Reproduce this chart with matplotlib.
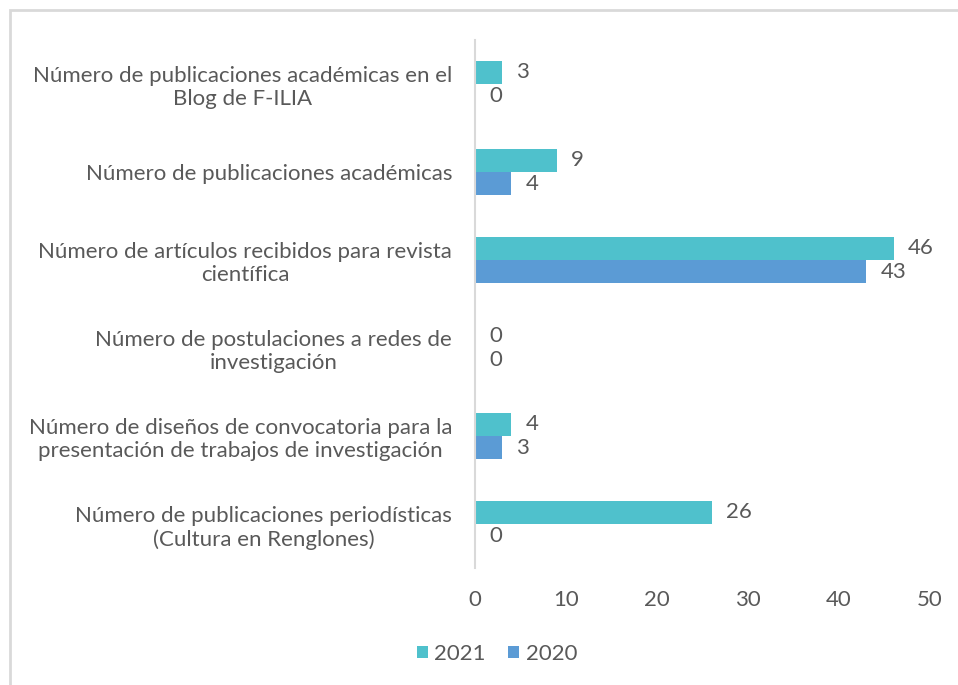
import numpy as np
import matplotlib.pyplot as plt
from matplotlib.patches import Rectangle

categorias = [
    "Número de publicaciones académicas en el\nBlog de F-ILIA",
    "Número de publicaciones académicas",
    "Número de artículos recibidos para revista\ncientífica",
    "Número de postulaciones a redes de\ninvestigación",
    "Número de diseños de convocatoria para la\npresentación de trabajos de investigación",
    "Número de publicaciones periodísticas\n(Cultura en Renglones)",
]
valores_2021 = [3, 9, 46, 0, 4, 26]
valores_2020 = [0, 4, 43, 0, 3, 0]
ticks_x = [0, 10, 20, 30, 40, 50]

color_2021 = "#4FC1CC"
color_2020 = "#5B9BD5"
gris = "#595959"
fs = 16

plt.rcParams['font.family'] = ['Lato', 'DejaVu Sans']

fig = plt.figure(figsize=(9.58, 6.85), dpi=100)
ax = fig.add_axes([0.4958, 0.1708, 0.4750, 0.7708])

# marco gris del gráfico
fig.patches.append(Rectangle((10/958, -0.1), 1.2, 1 - 10/685 + 0.1, transform=fig.transFigure,
                             fill=False, edgecolor="#D9D9D9", linewidth=2))

y = np.arange(len(categorias))
h = 0.262
b1 = ax.barh(y - h/2, valores_2021, height=h, color=color_2021, label="2021")
b2 = ax.barh(y + h/2, valores_2020, height=h, color=color_2020, label="2020")

for barras, vals in ((b1, valores_2021), (b2, valores_2020)):
    for bar, v in zip(barras, vals):
        ax.annotate(str(v), (v, bar.get_y() + bar.get_height()/2),
                    xytext=(14, 0), textcoords="offset pixels",
                    va="center", ha="left", fontsize=fs, color=gris)

ax.set_ylim(len(categorias) - 0.5, -0.5)
ax.set_xlim(0, 50)
ax.set_xticks(ticks_x)
ax.set_yticks(y)
ax.set_yticklabels(categorias, multialignment="center", linespacing=1.2)
ax.tick_params(axis="both", length=0, labelsize=fs, labelcolor=gris)
ax.tick_params(axis="y", pad=16.5)
ax.tick_params(axis="x", pad=16)

for s in ("top", "right", "bottom"):
    ax.spines[s].set_visible(False)
ax.spines["left"].set_color("#D9D9D9")
ax.spines["left"].set_linewidth(1.5)

fig.legend(handles=[b1, b2], loc="center", bbox_to_anchor=(497/958, 1 - 654/685),
           ncol=2, frameon=False, fontsize=fs, labelcolor=gris,
           handlelength=0.5, handleheight=0.5, handletextpad=0.3, columnspacing=1.0)

fig.savefig("out.png", dpi=100, facecolor="white")
